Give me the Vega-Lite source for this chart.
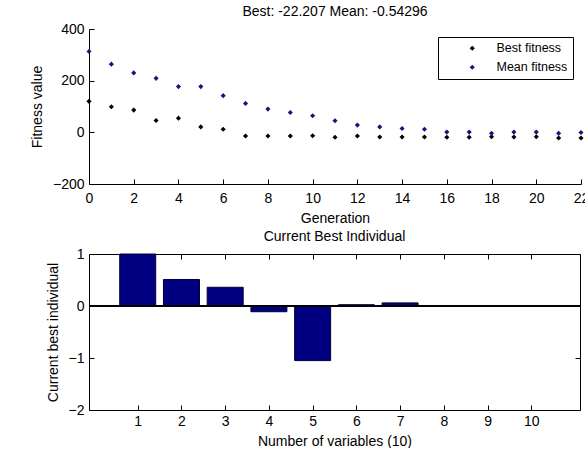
{
  "$schema": "https://vega.github.io/schema/vega-lite/v6.json",
  "padding": {"left": 30, "top": 5, "right": 0, "bottom": 0},
  "background": "#ffffff",
  "config": {
    "font": "Liberation Sans",
    "view": {"stroke": null},
    "axis": {
      "labelFont": "Liberation Sans", "labelFontSize": 14, "labelColor": "#000000",
      "titleFont": "Liberation Sans", "titleFontSize": 14, "titleFontWeight": "normal", "titleColor": "#000000",
      "domainColor": "#000000", "tickColor": "#000000", "tickSize": -5, "grid": false,
      "labelPadding": 10, "titlePadding": 6, "labelFlush": false, "labelOverlap": false
    },
    "title": {"font": "Liberation Sans", "fontSize": 14, "fontWeight": "normal", "color": "#000000", "offset": 3},
    "concat": {"spacing": 5}
  },
  "vconcat": [
    {
      "width": 492, "height": 155,
      "title": {"text": "Best: -22.207 Mean: -0.54296"},
      "data": {"values": [
        {"generation": 0, "series": "Best fitness", "fitness": 120}, {"generation": 0, "series": "Mean fitness", "fitness": 313},
        {"generation": 1, "series": "Best fitness", "fitness": 99}, {"generation": 1, "series": "Mean fitness", "fitness": 264},
        {"generation": 2, "series": "Best fitness", "fitness": 86}, {"generation": 2, "series": "Mean fitness", "fitness": 230},
        {"generation": 3, "series": "Best fitness", "fitness": 46}, {"generation": 3, "series": "Mean fitness", "fitness": 209},
        {"generation": 4, "series": "Best fitness", "fitness": 55}, {"generation": 4, "series": "Mean fitness", "fitness": 177},
        {"generation": 5, "series": "Best fitness", "fitness": 21}, {"generation": 5, "series": "Mean fitness", "fitness": 177},
        {"generation": 6, "series": "Best fitness", "fitness": 12}, {"generation": 6, "series": "Mean fitness", "fitness": 142},
        {"generation": 7, "series": "Best fitness", "fitness": -14}, {"generation": 7, "series": "Mean fitness", "fitness": 112},
        {"generation": 8, "series": "Best fitness", "fitness": -14}, {"generation": 8, "series": "Mean fitness", "fitness": 90},
        {"generation": 9, "series": "Best fitness", "fitness": -14}, {"generation": 9, "series": "Mean fitness", "fitness": 77},
        {"generation": 10, "series": "Best fitness", "fitness": -13}, {"generation": 10, "series": "Mean fitness", "fitness": 64},
        {"generation": 11, "series": "Best fitness", "fitness": -19}, {"generation": 11, "series": "Mean fitness", "fitness": 45},
        {"generation": 12, "series": "Best fitness", "fitness": -14}, {"generation": 12, "series": "Mean fitness", "fitness": 28},
        {"generation": 13, "series": "Best fitness", "fitness": -18}, {"generation": 13, "series": "Mean fitness", "fitness": 21},
        {"generation": 14, "series": "Best fitness", "fitness": -18}, {"generation": 14, "series": "Mean fitness", "fitness": 15},
        {"generation": 15, "series": "Best fitness", "fitness": -18}, {"generation": 15, "series": "Mean fitness", "fitness": 12},
        {"generation": 16, "series": "Best fitness", "fitness": -19}, {"generation": 16, "series": "Mean fitness", "fitness": 1},
        {"generation": 17, "series": "Best fitness", "fitness": -19}, {"generation": 17, "series": "Mean fitness", "fitness": 1},
        {"generation": 18, "series": "Best fitness", "fitness": -17}, {"generation": 18, "series": "Mean fitness", "fitness": -4},
        {"generation": 19, "series": "Best fitness", "fitness": -18}, {"generation": 19, "series": "Mean fitness", "fitness": 1},
        {"generation": 20, "series": "Best fitness", "fitness": -17}, {"generation": 20, "series": "Mean fitness", "fitness": 1},
        {"generation": 21, "series": "Best fitness", "fitness": -22}, {"generation": 21, "series": "Mean fitness", "fitness": -4},
        {"generation": 22, "series": "Best fitness", "fitness": -22.207}, {"generation": 22, "series": "Mean fitness", "fitness": -0.54296}
      ]},
      "mark": {"type": "point", "shape": "diamond", "filled": true, "size": 26, "opacity": 1},
      "encoding": {
        "x": {"field": "generation", "type": "quantitative",
              "scale": {"domain": [0, 22], "nice": false, "zero": false},
              "axis": {"values": [0, 2, 4, 6, 8, 10, 12, 14, 16, 18, 20, 22], "title": "Generation", "labelPadding": 12, "titlePadding": 6}},
        "y": {"field": "fitness", "type": "quantitative",
              "scale": {"domain": [-200, 400], "nice": false},
              "axis": {"values": [-200, 0, 200, 400], "title": "Fitness value", "titlePadding": 8}},
        "color": {"field": "series", "type": "nominal",
                  "scale": {"domain": ["Best fitness", "Mean fitness"], "range": ["#000000", "#1f1080"]},
                  "legend": {"title": null, "orient": "none", "legendX": 349, "legendY": 8, "strokeColor": "#000000", "fillColor": "#ffffff",
                             "padding": 5, "symbolOffset": 23, "labelOffset": 18, "labelFont": "Liberation Sans", "labelFontSize": 12.5, "labelColor": "#000000",
                             "symbolSize": 26, "symbolType": "diamond", "rowPadding": 6, "symbolStrokeWidth": 0}}
      }
    },
    {
      "width": 491, "height": 156,
      "title": {"text": "Current Best Individual"},
      "data": {"values": [
        {"variable": 1, "value": 1.0},
        {"variable": 2, "value": 0.51},
        {"variable": 3, "value": 0.36},
        {"variable": 4, "value": -0.11},
        {"variable": 5, "value": -1.05},
        {"variable": 6, "value": 0.025},
        {"variable": 7, "value": 0.06},
        {"variable": 8, "value": 0},
        {"variable": 9, "value": 0},
        {"variable": 10, "value": 0}
      ]},
      "layer": [
        {
          "mark": {"type": "bar", "size": 36, "color": "#000080", "stroke": "#000033", "strokeWidth": 1},
          "encoding": {
            "x": {"field": "variable", "type": "quantitative",
                  "scale": {"domain": [0, 11], "nice": false, "zero": false},
                  "axis": {"values": [1, 2, 3, 4, 5, 6, 7, 8, 9, 10], "title": "Number of variables (10)", "labelPadding": 9, "titlePadding": 6}},
            "y": {"field": "value", "type": "quantitative",
                  "scale": {"domain": [-2, 1], "nice": false},
                  "axis": {"values": [-2, -1, 0, 1], "title": "Current best individual", "titlePadding": 8}}
          }
        },
        {
          "mark": {"type": "rule", "color": "#000000", "strokeWidth": 1},
          "encoding": {"y": {"datum": 0, "type": "quantitative", "axis": null}}
        },
        {
          "mark": {"type": "point", "opacity": 0},
          "encoding": {
            "x": {"field": "variable", "type": "quantitative",
                  "axis": {"orient": "top", "values": [1, 2, 3, 4, 5, 6, 7, 8, 9, 10], "labels": false, "title": null}},
            "y": {"field": "value", "type": "quantitative",
                  "axis": {"orient": "right", "values": [-2, -1, 0, 1], "labels": false, "title": null}}
          }
        }
      ],
      "resolve": {"axis": {"x": "independent", "y": "independent"}}
    }
  ]
}
